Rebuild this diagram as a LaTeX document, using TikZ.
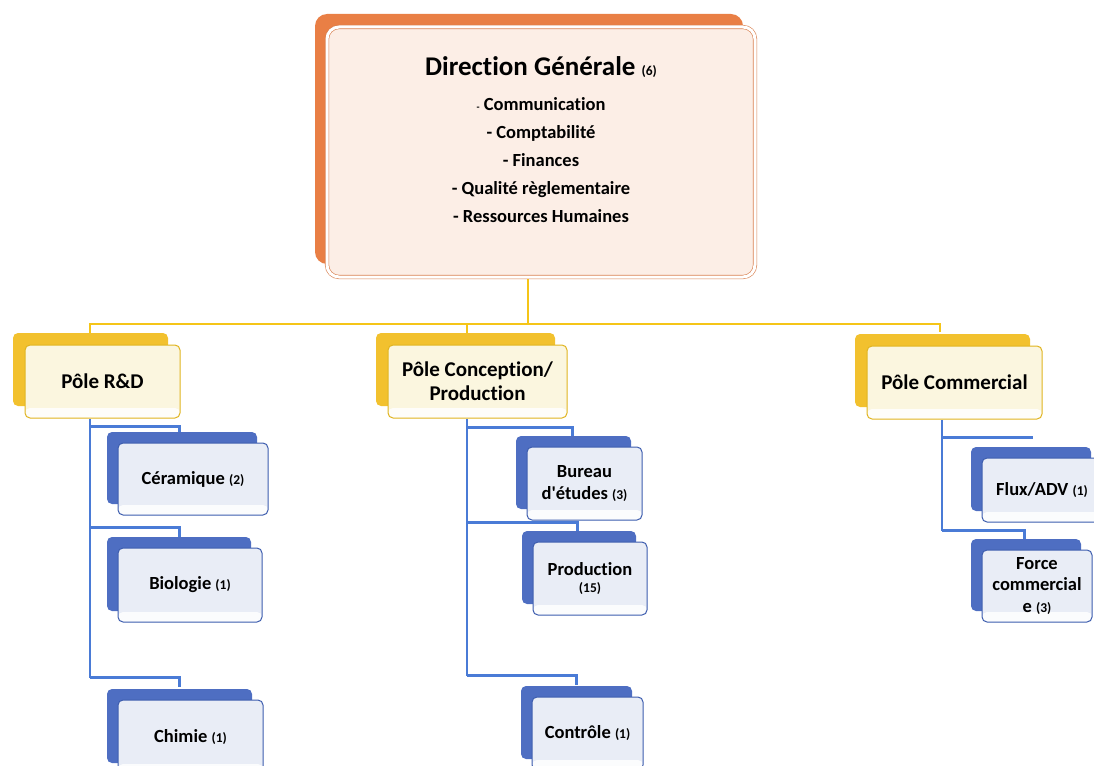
\documentclass[tikz,border=0pt]{standalone}
\usepackage{fontspec}
\setmainfont{Carlito}[RawFeature={-liga}]
\newfontfamily\plainfont{Carlito}
\usetikzlibrary{shadows,calc,backgrounds}
\definecolor{dgfill}{HTML}{FCEEE6}
\definecolor{dgback}{HTML}{E97F45}
\definecolor{dgedge}{HTML}{D9804F}
\definecolor{pfill}{HTML}{FBF6DF}
\definecolor{pback}{HTML}{F2C12E}
\definecolor{pedge}{HTML}{E0B420}
\definecolor{bfill}{HTML}{E9EDF6}
\definecolor{bback}{HTML}{4E6EC2}
\definecolor{bedge}{HTML}{3D5DAE}
\definecolor{ycol}{HTML}{F5C518}
\definecolor{bcol}{HTML}{4A7BD6}
\tikzset{
  whitestrip/.style={path picture={\fill[white,opacity=0.85] ([yshift=10pt]path picture bounding box.south west) rectangle (path picture bounding box.south east);}},
  dgbox/.style={rounded corners=12pt, minimum width=428, minimum height=250, fill=dgfill,
    draw=dgedge, double=white, double distance=3pt, line width=0.6pt,
    general shadow={shadow xshift=-12pt, shadow yshift=13pt, fill=dgback, draw=none}},
  polebox/.style={rounded corners=5pt, minimum height=73, fill=pfill, draw=pedge, line width=1pt,
    whitestrip, align=center, font=\fontsize{21}{24}\selectfont\bfseries,
    general shadow={shadow xshift=-12pt, shadow yshift=12pt, fill=pback, draw=none}},
  subbox/.style={rounded corners=5pt, minimum height=73, fill=bfill, draw=bedge, line width=1pt,
    whitestrip, align=center, font=\fontsize{18.5}{22.5}\selectfont\bfseries,
    general shadow={shadow xshift=-11pt, shadow yshift=11pt, fill=bback, draw=none}},
  yline/.style={draw=ycol, line width=2.8pt},
  bline/.style={draw=bcol, line width=2.2pt},
}
\newcommand{\cnt}[1]{{\fontsize{13.5}{15}\selectfont(#1)}}
\begin{document}
\begin{tikzpicture}[x=1pt,y=-1pt]
\useasboundingbox (0,0) rectangle (1094,765);
% top box
\node[dgbox] (dg) at (541,152) {};
\node[align=center, font=\fontsize{18.5}{28}\selectfont\bfseries] (dgtext) at (541,140)
  {{\fontsize{27}{28}\selectfont Direction Générale \cnt{6}}\\[7pt]
   {\fontsize{10}{10}\selectfont -} Communication\\
   - Comptabilité\\
   - Finances\\
   - Qualité règlementaire\\
   - Ressources Humaines};
% poles
\node[polebox, minimum width=155] (rd) at (102.5,381.5) {Pôle R\&D};
\node[polebox, minimum width=179] (cp) at (477.5,381.5) {Pôle Conception/\\Production};
\node[polebox, minimum width=175] (cm) at (954.5,382.5) {Pôle Commercial};
% sub units
\node[subbox, minimum width=150, minimum height=72] (cer) at (193,479) {Céramique \cnt{2}};
\node[subbox, minimum width=144, minimum height=74] (bio) at (190,585) {Biologie \cnt{1}};
\node[subbox, minimum width=145, minimum height=74] (chi) at (190.5,737) {Chimie \cnt{1}};
\node[subbox, minimum width=115] (bur) at (584.5,483.5) {Bureau\\d{\plainfont\bfseries '}études \cnt{3}};
\node[subbox, minimum width=114] (prd) at (590,578.5) {Production\\[-5.5pt]\cnt{15}};
\node[subbox, minimum width=111] (ctl) at (587.5,733.5) {Contrôle \cnt{1}};
\node[subbox, minimum width=120, minimum height=64] (flx) at (1042,490) {Flux/ADV \cnt{1}};
\node[subbox, minimum width=110, minimum height=72, font=\fontsize{18.5}{21.5}\selectfont\bfseries] (frc) at (1037,586) {Force\\commercial\\e \cnt{3}};
% connectors
\begin{scope}[on background layer]
\coordinate (bus) at (528,324);
\draw[yline] (dg.south -| bus) -- (bus);
\draw[yline] (bus) -| ($(rd.north)+(-12.5,-12)$);
\draw[yline] (bus) -| ($(cp.north)+(-10.5,-12)$);
\draw[yline] (bus) -| ($(cm.north)+(-14.5,-14)$);
% R&D
\draw[bline] ($(rd.south)+(-12.5,0)$) -- ($(rd.south)+(-12.5,259)$);
\draw[bline] ($(rd.south)+(-12.5,8)$) -| ($(cer.north west)+(62,-10)$);
\draw[bline] ($(rd.south)+(-12.5,109)$) -| ($(bio.north west)+(62,-11)$);
\draw[bline] ($(rd.south)+(-12.5,259)$) -| ($(chi.north west)+(62,-13)$);
% Conception
\draw[bline] ($(cp.south)+(-10.5,0)$) -- ($(cp.south)+(-10.5,257)$);
\draw[bline] ($(cp.south)+(-10.5,9)$) -| ($(bur.north west)+(46,-10)$);
\draw[bline] ($(cp.south)+(-10.5,104)$) -| ($(prd.north west)+(45,-10)$);
\draw[bline] ($(cp.south)+(-10.5,257)$) -| ($(ctl.north west)+(45,-12)$);
% Commercial
\coordinate (flxstart) at ($(cm.south)+(-12.5,18)$);
\coordinate (flxend) at ($(flx.north west)+(51,0)$);
\draw[bline] ($(cm.south)+(-12.5,0)$) -- ($(cm.south)+(-12.5,111)$);
\draw[bline] (flxstart) -- (flxstart -| flxend);
\draw[bline] ($(cm.south)+(-12.5,111)$) -| ($(frc.north west)+(43,-10)$);
\end{scope}
\end{tikzpicture}
\end{document}
